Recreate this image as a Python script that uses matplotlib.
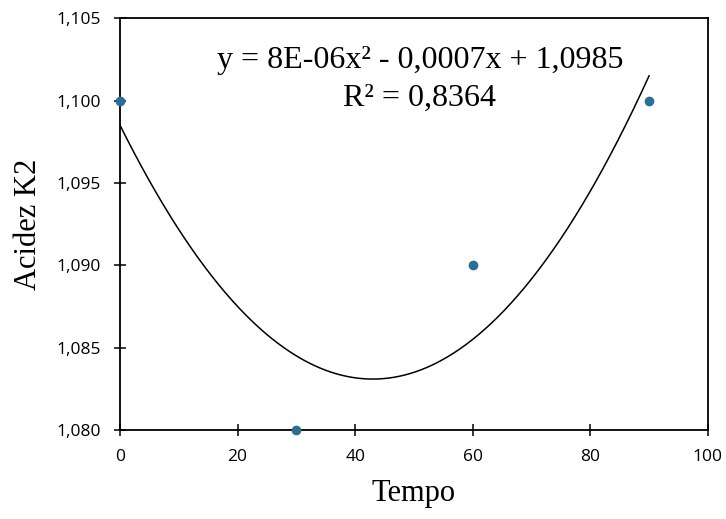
import matplotlib.pyplot as plt
import numpy as np

# data
tempo = [0, 30, 60, 90]
acidez = [1.100, 1.080, 1.090, 1.100]
x_ticks = [0, 20, 40, 60, 80, 100]
y_ticks = [1.080, 1.085, 1.090, 1.095, 1.100, 1.105]
eq_line = "y = 8E-06x² - 0,0007x + 1,0985"
r2_line = "R² = 0,8364"

POINT = "#2b6f96"
SERIF = "Liberation Serif"
SANS = "Open Sans"

fig = plt.figure(figsize=(7.26, 5.19), dpi=100)
ax = fig.add_axes([0.1653, 0.1715, 0.8097, 0.7935])

# polynomial trendline (order 2) fitted on the data
coef = np.polyfit(tempo, acidez, 2)
xs = np.linspace(min(tempo), max(tempo), 300)
ax.plot(xs, np.polyval(coef, xs), color="black", lw=1.1, zorder=2)

ax.plot(tempo, acidez, "o", color=POINT, ms=6, clip_on=False, zorder=3)

ax.set_xlim(0, 100)
ax.set_ylim(1.080, 1.105)
ax.set_xticks(x_ticks)
ax.set_yticks(y_ticks)
ax.set_xticklabels([str(v) for v in x_ticks], family=SANS, fontsize=12.5)
ax.set_yticklabels([f"{v:.3f}".replace(".", ",") for v in y_ticks], family=SANS, fontsize=12.5)
ax.tick_params(direction="inout", length=9, width=1.1, pad=9)

for s in ax.spines.values():
    s.set_linewidth(1.3)

ax.set_xlabel("Tempo", family=SERIF, fontsize=22, labelpad=10)
ax.set_ylabel("Acidez K2", family=SERIF, fontsize=22, labelpad=10)

ax.text(51, 1.10245, eq_line, family=SERIF, fontsize=23, ha="center", va="center")
ax.text(51, 1.10015, r2_line, family=SERIF, fontsize=23, ha="center", va="center")

fig.savefig("out.png", dpi=100)
